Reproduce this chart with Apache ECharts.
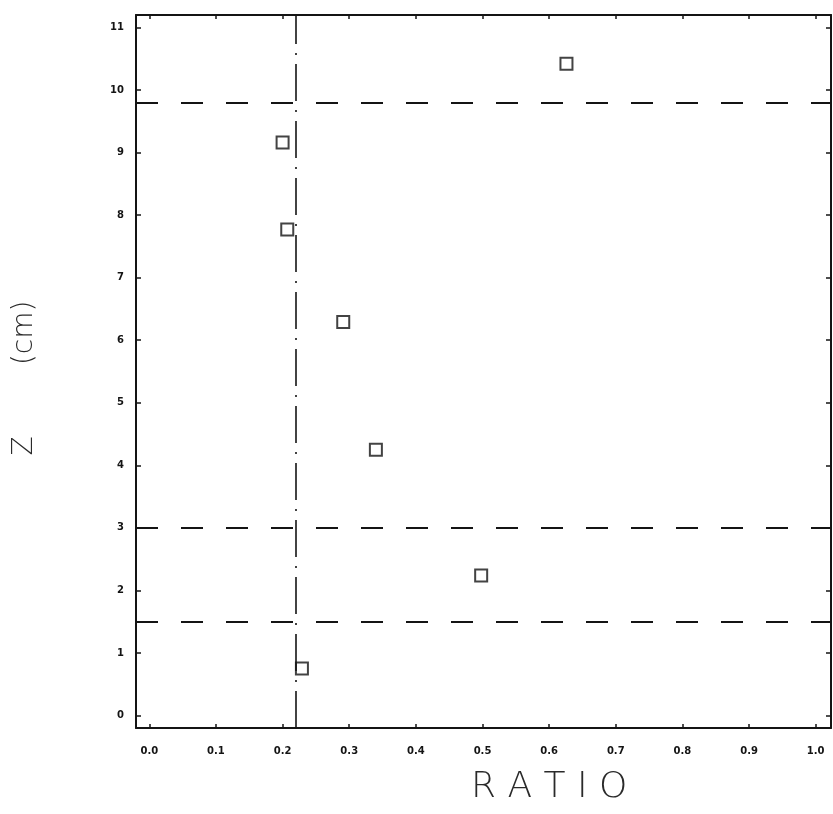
<!DOCTYPE html>
<html>
<head>
<meta charset="utf-8">
<script src="https://cdn.jsdelivr.net/npm/echarts@6/dist/echarts.min.js"></script>
<style>
  html, body { margin: 0; padding: 0; background: #fff; }
  #chart { width: 833px; height: 814px; }
</style>
</head>
<body>
<div id="chart"></div>
<script>
// Measured points: ratio vs. height Z
const ratio = [0.626, 0.200, 0.207, 0.291, 0.340, 0.498, 0.229];
const zCm   = [10.42, 9.16, 7.77, 6.29, 4.25, 2.24, 0.75];

// Reference lines
const levelLines = [9.8, 3.0, 1.5];   // horizontal dashed levels (cm)
const ratioLine = 0.22;               // vertical dash-dot ratio

// Tick positions and labels
const xTicks = [0, 0.1, 0.2, 0.3, 0.4, 0.5, 0.6, 0.7, 0.8, 0.9, 1.0];
const yTicks = [0, 1, 2, 3, 4, 5, 6, 7, 8, 9, 10, 11];

const ink = '#141414';
const tickFont = { fontFamily: 'DejaVu Sans', fontWeight: 'bold', fontSize: 10, color: ink };

const points = ratio.map((r, i) => [r, zCm[i]]);

const chart = echarts.init(document.getElementById('chart'));

const frameAxis = {
  axisLine: { show: true, onZero: false, lineStyle: { color: ink, width: 2 } },
  splitLine: { show: false }
};

chart.setOption({
  backgroundColor: '#ffffff',
  animation: false,
  grid: { left: 136, right: 2, top: 15, bottom: 86, containLabel: false },
  xAxis: [
    Object.assign({
      type: 'value', position: 'bottom', min: -0.02, max: 1.023,
      axisTick: { show: true, inside: true, length: 4, customValues: xTicks, lineStyle: { color: ink, width: 1.5 } },
      axisLabel: { show: true, customValues: xTicks, margin: 18, formatter: v => v.toFixed(1), ...tickFont }
    }, frameAxis),
    Object.assign({
      type: 'value', position: 'top', min: -0.02, max: 1.023,
      axisTick: { show: true, inside: true, length: 4, customValues: xTicks, lineStyle: { color: ink, width: 1.5 } },
      axisLabel: { show: false }
    }, frameAxis)
  ],
  yAxis: [
    Object.assign({
      type: 'value', position: 'left', min: -0.2, max: 11.2,
      axisTick: { show: true, inside: true, length: 5, customValues: yTicks, lineStyle: { color: ink, width: 1.5 } },
      axisLabel: { show: true, customValues: yTicks, margin: 12, ...tickFont }
    }, frameAxis),
    Object.assign({
      type: 'value', position: 'right', min: -0.2, max: 11.2,
      axisTick: { show: true, inside: true, length: 5, customValues: yTicks, lineStyle: { color: ink, width: 1.5 } },
      axisLabel: { show: false }
    }, frameAxis)
  ],
  graphic: [
    {
      type: 'text', x: 25, y: 378, rotation: Math.PI / 2,
      style: {
        text: 'Z        (cm)', fontFamily: 'DejaVu Sans', fontSize: 28, fontWeight: 'lighter',
        fill: '#2a2a2a', align: 'center', verticalAlign: 'middle'
      }
    },
    {
      type: 'text', left: 471, top: 770,
      style: { text: 'R A T I O', fontFamily: 'DejaVu Sans', fontSize: 36, fontWeight: 'lighter', fill: '#2a2a2a' }
    }
  ],
  series: [
    {
      type: 'scatter',
      xAxisIndex: 0, yAxisIndex: 0,
      data: points,
      symbol: 'rect',
      symbolSize: 12,
      itemStyle: { color: 'rgba(255,255,255,0)', borderColor: ink, borderWidth: 2 },
      z: 5,
      markLine: {
        silent: true,
        symbol: ['none', 'none'],
        label: { show: false },
        data: [
          ...levelLines.map(v => ({ yAxis: v, lineStyle: { type: [22, 23], color: ink, width: 2 } })),
          { xAxis: ratioLine, lineStyle: { type: [37, 9, 2, 9], color: ink, width: 1.6 } }
        ]
      }
    }
  ]
});
</script>
</body>
</html>
